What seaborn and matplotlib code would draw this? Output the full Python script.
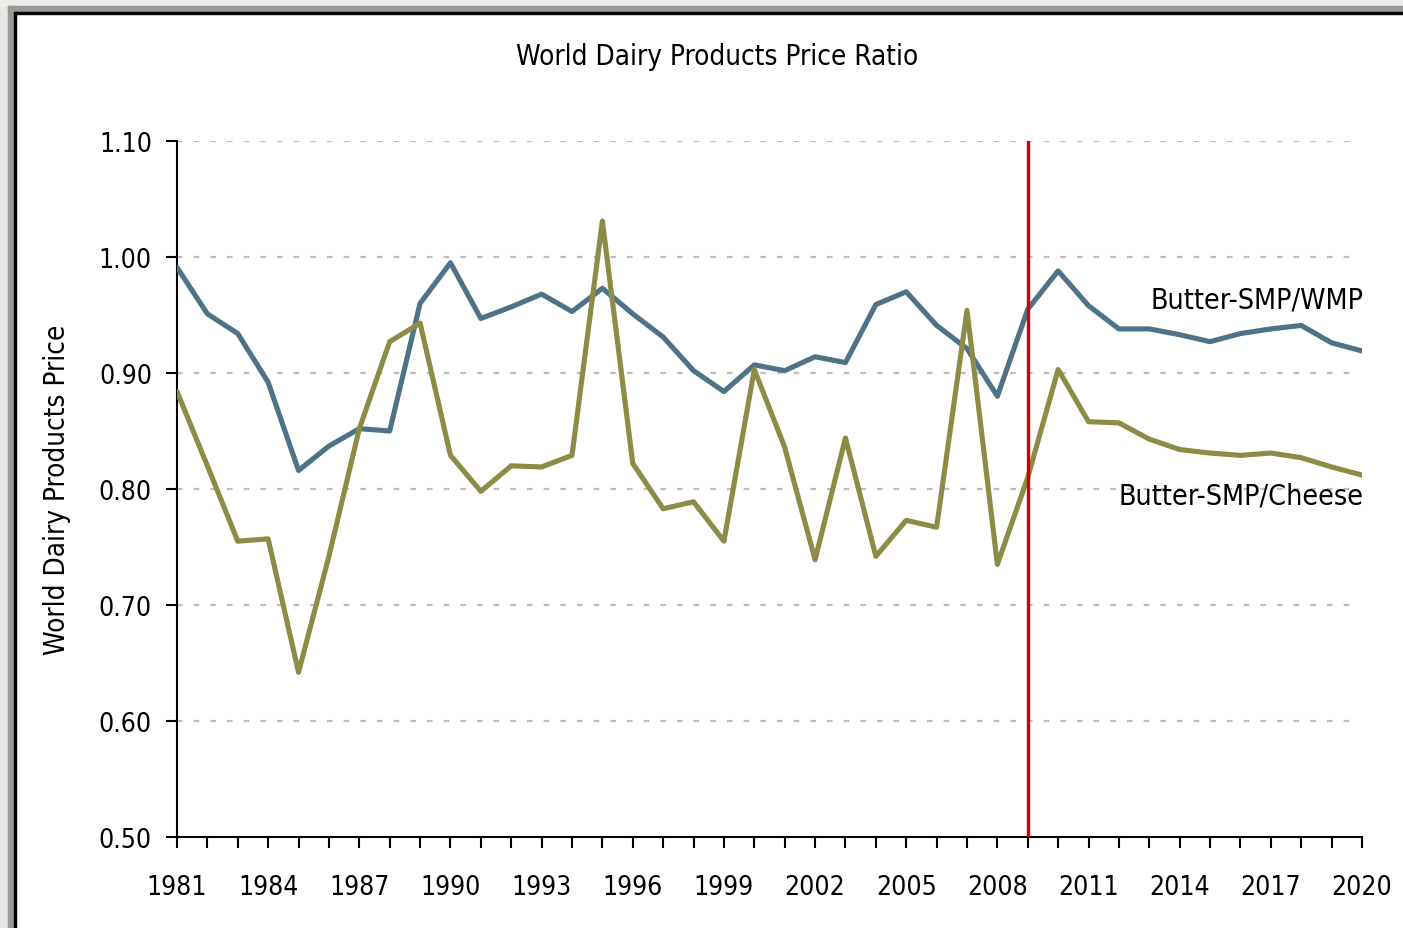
import numpy as np
import pandas as pd
import seaborn as sns
import matplotlib
matplotlib.use("Agg")
import matplotlib.pyplot as plt
from matplotlib.patches import Rectangle

years = list(range(1981, 2021))
wmp_ratio = [0.991, 0.951, 0.934, 0.892, 0.816, 0.837, 0.852, 0.850, 0.960, 0.995,
             0.947, 0.957, 0.968, 0.953, 0.973, 0.951, 0.931, 0.902, 0.884, 0.907,
             0.902, 0.914, 0.909, 0.959, 0.970, 0.941, 0.921, 0.880, 0.955, 0.988,
             0.958, 0.938, 0.938, 0.933, 0.927, 0.934, 0.938, 0.941, 0.926, 0.919]
cheese_ratio = [0.884, 0.820, 0.755, 0.757, 0.642, 0.742, 0.852, 0.927, 0.943, 0.829,
                0.798, 0.820, 0.819, 0.829, 1.031, 0.822, 0.783, 0.789, 0.755, 0.903,
                0.836, 0.739, 0.844, 0.742, 0.773, 0.767, 0.954, 0.735, 0.810, 0.903,
                0.858, 0.857, 0.843, 0.834, 0.831, 0.829, 0.831, 0.827, 0.819, 0.812]
series_names = ["Butter-SMP/WMP", "Butter-SMP/Cheese"]
y_ticks = [0.50, 0.60, 0.70, 0.80, 0.90, 1.00, 1.10]
x_label_years = list(range(1981, 2021, 3))
marker_year = 2009

sns.set_theme(style="white")
plt.rcParams['font.family'] = ['DejaVu Sans']
plt.rcParams['font.stretch'] = 'condensed'
plt.rcParams['text.color'] = 'black'
plt.rcParams['xtick.color'] = 'black'
plt.rcParams['ytick.color'] = 'black'
plt.rcParams['axes.labelcolor'] = 'black'

df = pd.DataFrame({
    "year": years * 2,
    "ratio": wmp_ratio + cheese_ratio,
    "series": [series_names[0]] * len(years) + [series_names[1]] * len(years),
})

fig = plt.figure(figsize=(14.03, 9.29), dpi=100)
fig.patch.set_facecolor("white")
# screenshot border
fig.patches.append(Rectangle((0, 0), 8/1403, 1, transform=fig.transFigure, color="#e6e6e2", zorder=0))
fig.patches.append(Rectangle((0, 1-7/929), 1, 7/929, transform=fig.transFigure, color="#ecebe6", zorder=0))
fig.patches.append(Rectangle((8/1403, 0), 6/1403, 1-7/929, transform=fig.transFigure, color="#999999", zorder=1))
fig.patches.append(Rectangle((8/1403, 1-13/929), 1, 6/929, transform=fig.transFigure, color="#999999", zorder=1))
fig.patches.append(Rectangle((14/1403, 0), 2/1403, 1-13/929, transform=fig.transFigure, color="black", zorder=2))
fig.patches.append(Rectangle((14/1403, 1-15/929), 1, 2/929, transform=fig.transFigure, color="black", zorder=2))

ax = fig.add_axes([177/1403, 1-838/929, (1362-177)/1403, (838-142)/929])
ax.set_facecolor("none")

palette = {series_names[0]: "#4E7389", series_names[1]: "#8C8C46"}
sns.lineplot(data=df, x="year", y="ratio", hue="series", palette=palette,
             linewidth=3.7, ax=ax, legend=False, zorder=3)

ax.set_xlim(1981, 2020)
ax.set_ylim(0.5, 1.1)

for yv in y_ticks[1:]:
    ax.axhline(yv, xmin=0, xmax=0.994, color="#bdbdbd", linewidth=1.6,
               linestyle=(0, (2.5, 5)), zorder=1)

ax.axvline(marker_year, color="#d40000", linewidth=2.4, zorder=4)

ax.set_yticks(y_ticks)
ax.set_yticklabels([f"{v:.2f}" for v in y_ticks])
ax.set_xticks(years, minor=True)
ax.set_xticks(x_label_years)
ax.set_xticklabels([str(y) for y in x_label_years])
ax.tick_params(axis="both", which="both", direction="out", color="black", width=1.5)
ax.tick_params(axis="x", which="major", length=8, pad=19, labelsize=19)
ax.tick_params(axis="x", which="minor", length=8)
ax.tick_params(axis="y", which="major", length=8, pad=10, labelsize=19)
ax.xaxis.set_ticks_position("bottom")
ax.yaxis.set_ticks_position("left")

for s in ["top", "right"]:
    ax.spines[s].set_visible(False)
for s in ["left", "bottom"]:
    ax.spines[s].set_color("black")
    ax.spines[s].set_linewidth(1.5)

ax.set_xlabel("")
ax.set_ylabel("World Dairy Products Price", fontsize=20, labelpad=20, color="black")

ax.text(2020.05, 0.963, series_names[0], ha="right", va="center", fontsize=20.5, color="black")
ax.text(2020.05, 0.794, series_names[1], ha="right", va="center", fontsize=20.5, color="black")

fig.text(717/1403, 1-57/929, "World Dairy Products Price Ratio", ha="center", va="center",
         fontsize=20, color="black")

fig.savefig("out.png", dpi=100, facecolor=fig.get_facecolor())
